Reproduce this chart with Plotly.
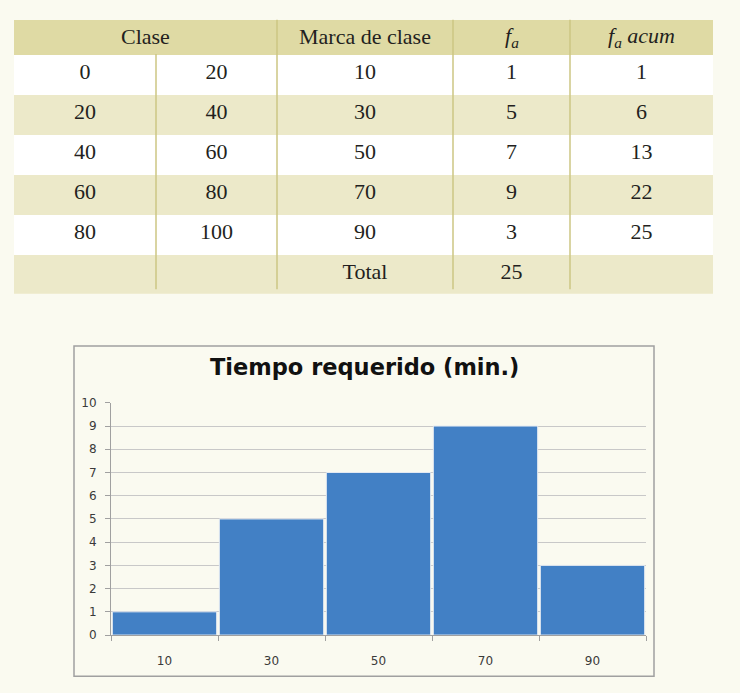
import plotly.graph_objects as go

# ---------------- data ----------------
clase_inf = [0, 20, 40, 60, 80]
clase_sup = [20, 40, 60, 80, 100]
marca = [10, 30, 50, 70, 90]
fa = [1, 5, 7, 9, 3]
fa_acum = [1, 6, 13, 22, 25]
total_label = "Total"
total_fa = 25
header_labels = ["Marca de clase", "<i>f<sub>a</sub></i>", "<i>f<sub>a</sub> acum</i>"]
clase_header = "Clase"
chart_title = "Tiempo requerido (min.)"
x_labels = [str(m) for m in marca]

# ---------------- layout constants ----------------
W, H = 740, 693
BG = "#fafaf0"
HEAD_FILL = "#dfdaa4"
ALT_FILL = "#ece9c9"
WHITE = "#ffffff"
LINE_C = "#cdc683"
BAR_C = "#4280c5"
TXT = "#231f20"
SERIF = "Liberation Serif"

tbl_left, tbl_right = 14, 713
tbl_top = 13
head_h, row_h = 35, 40
col_w = [142, 121, 176, 117, 143]
n_rows = len(marca) + 1
tbl_bottom = tbl_top + head_h + row_h * n_rows

def px(x):
    return x / W

def py(y):
    return 1 - y / H

cols = [
    [str(v) for v in clase_inf] + [""],
    [str(v) for v in clase_sup] + [""],
    [str(v) for v in marca] + [total_label],
    [str(v) for v in fa] + [str(total_fa)],
    [str(v) for v in fa_acum] + [""],
]
row_fills = [WHITE if i % 2 == 0 else ALT_FILL for i in range(n_rows)]

fig = go.Figure()

fig.add_trace(go.Table(
    domain=dict(x=[px(tbl_left), px(tbl_right)], y=[py(tbl_bottom + 5), py(tbl_top)]),
    columnwidth=col_w,
    header=dict(
        values=[""] * 5,
        fill_color=HEAD_FILL,
        line=dict(width=0, color=HEAD_FILL),
        height=head_h,
        align="center",
        font=dict(family=SERIF, size=22, color=TXT),
    ),
    cells=dict(
        values=cols,
        fill_color=[row_fills] * len(cols),
        line=dict(width=0, color=WHITE),
        height=row_h,
        align="center",
        font=dict(family=SERIF, size=22, color=TXT),
    ),
))

shapes = []
xs = [tbl_left]
for w in col_w:
    xs.append(xs[-1] + w)
for i, xv in enumerate(xs[1:-1], start=1):
    y0 = tbl_top + head_h if i == 1 else tbl_top
    shapes.append(dict(type="line", xref="paper", yref="paper",
                       x0=px(xv), x1=px(xv), y0=py(y0), y1=py(tbl_bottom),
                       line=dict(color=LINE_C, width=1.5)))

# chart frame
shapes.append(dict(type="rect", xref="paper", yref="paper",
                   x0=px(74), x1=px(654), y0=py(683), y1=py(346),
                   line=dict(color="#a0a0a0", width=1.5), fillcolor="rgba(0,0,0,0)",
                   layer="below"))

fig.add_trace(go.Bar(
    x=x_labels, y=fa,
    marker=dict(color=BAR_C, line=dict(color="#e4eaf2", width=1)),
    xaxis="x", yaxis="y",
    hoverinfo="x+y",
))

head_y = py(tbl_top + head_h / 2)
annotations = [
    dict(text=clase_header, xref="paper", yref="paper",
         x=px((xs[0] + xs[2]) / 2), y=head_y,
         xanchor="center", yanchor="middle", showarrow=False,
         font=dict(family=SERIF, size=22, color=TXT)),
]
for j, lab in enumerate(header_labels):
    c = j + 2
    annotations.append(dict(text=lab, xref="paper", yref="paper",
                            x=px((xs[c] + xs[c + 1]) / 2), y=head_y,
                            xanchor="center", yanchor="middle", showarrow=False,
                            font=dict(family=SERIF, size=22, color=TXT)))
annotations.append(dict(text="<b>" + chart_title + "</b>", xref="paper", yref="paper",
                        x=px(364), y=py(367), xanchor="center", yanchor="middle",
                        showarrow=False,
                        font=dict(family="DejaVu Sans", size=22.5, color="#111111")))

fig.update_layout(
    width=W, height=H,
    margin=dict(l=0, r=0, t=0, b=0),
    paper_bgcolor=BG, plot_bgcolor=BG,
    showlegend=False,
    bargap=0.025,
    shapes=shapes,
    annotations=annotations,
    xaxis=dict(
        domain=[px(111), px(646)],
        anchor="y",
        type="category",
        tickson="boundaries",
        ticks="outside", ticklen=5, tickcolor="#a0a0a0",
        showline=True, linecolor="#a0a0a0", linewidth=1,
        showgrid=False,
        ticklabelstandoff=15,
        tickfont=dict(family="DejaVu Sans", size=12, color="#3a3a3a"),
        fixedrange=True,
    ),
    yaxis=dict(
        domain=[52 / H, (H - 404) / H],
        anchor="x",
        range=[0, 10],
        dtick=1,
        ticks="outside", ticklen=5, tickcolor="#a0a0a0",
        showline=True, linecolor="#a0a0a0", linewidth=1,
        showgrid=True, gridcolor="#c8c8c8", gridwidth=1,
        zeroline=False,
        ticklabelstandoff=6,
        tickfont=dict(family="DejaVu Sans", size=12, color="#3a3a3a"),
        fixedrange=True,
    ),
)

fig.write_html("out.html")
